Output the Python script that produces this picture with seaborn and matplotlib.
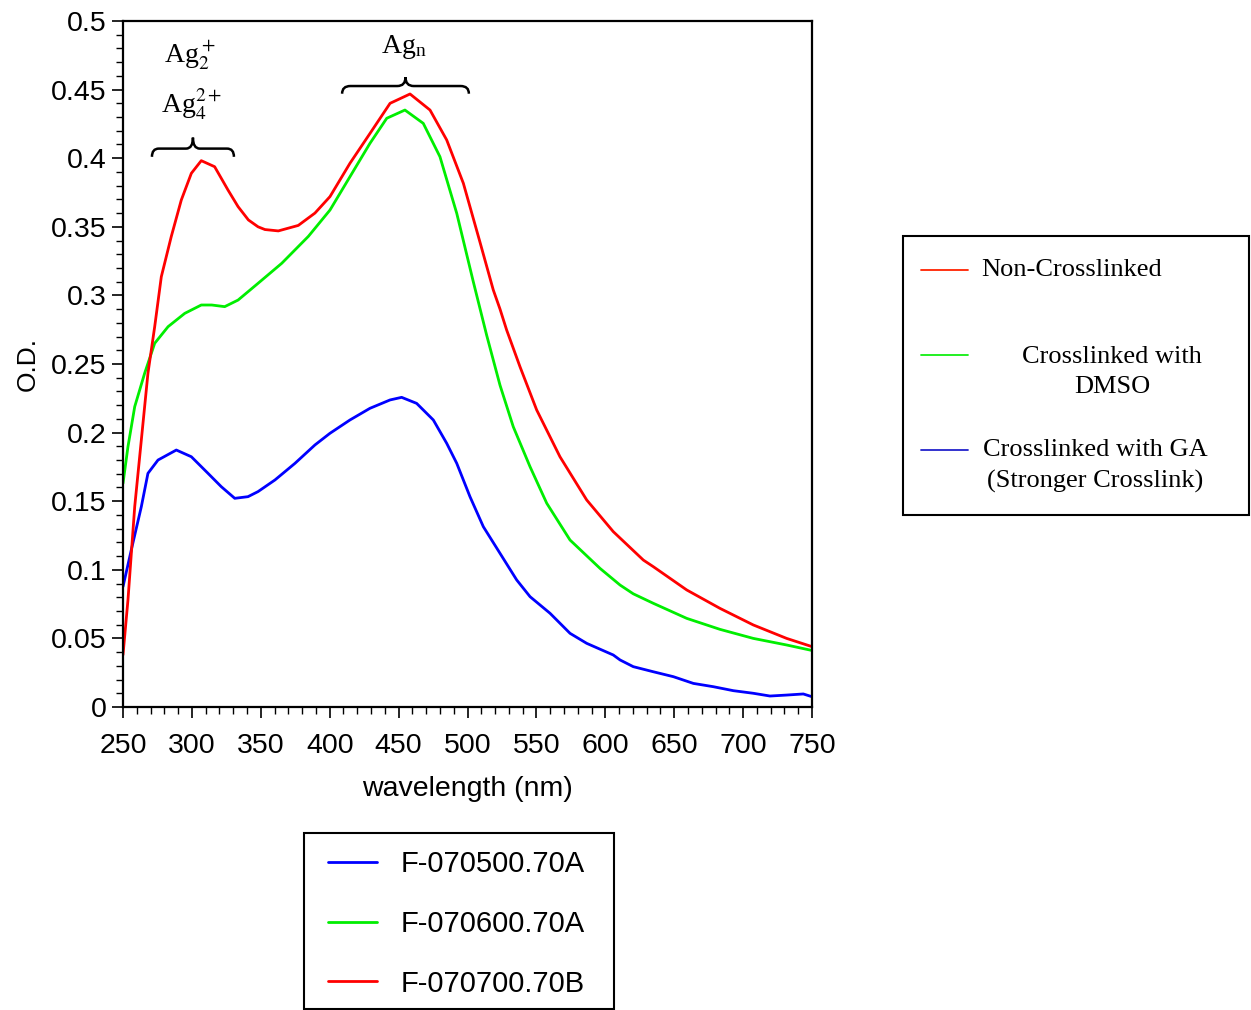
import numpy as np
import pandas as pd
import matplotlib
matplotlib.use("Agg")
import matplotlib.pyplot as plt
import seaborn as sns
from matplotlib.path import Path
from matplotlib.patches import PathPatch, Rectangle
from matplotlib.lines import Line2D
from matplotlib.ticker import MultipleLocator, FuncFormatter

# 读图得到的数据 (wavelength nm, O.D.)
blue_nm = [250, 256, 263.3, 268.1, 275.4, 288.7, 299.6, 311.7, 321.3, 331.1, 340.7, 348, 360.3,
           374.8, 389.3, 400.2, 414.7, 429.2, 443.8, 452.2, 463.1, 475.2, 484.9, 492.2, 501.8,
           511.5, 523.6, 535.7, 545.4, 559.9, 574.4, 586.5, 605.8, 610.7, 620.3, 634.8, 649.4,
           663.9, 678.4, 692.9, 707.4, 719.5, 731.6, 743.7, 750]
blue_od = [0.0877, 0.1144, 0.146, 0.1703, 0.180, 0.1873, 0.1824, 0.1703, 0.1606, 0.1521, 0.1533,
           0.157, 0.1655, 0.1776, 0.191, 0.1995, 0.2092, 0.2177, 0.2238, 0.2257, 0.2213, 0.2092,
           0.1922, 0.1776, 0.1533, 0.1314, 0.112, 0.0926, 0.0804, 0.0683, 0.0537, 0.0464,
           0.0379, 0.0343, 0.0294, 0.0257, 0.0221, 0.0172, 0.0148, 0.0119, 0.0100, 0.0080,
           0.0087, 0.0095, 0.0075]

green_nm = [250, 253.6, 258.5, 265.7, 273, 282.7, 294.8, 306.8, 314.4, 323.8, 333.5, 348, 365.2,
            384.5, 400.2, 414.7, 429.2, 441.4, 454.6, 467.9, 480, 492.2, 504.2, 513.9, 523.6,
            533.2, 545.4, 557.5, 574.4, 596.2, 610.7, 620.3, 634.8, 659.1, 683.2, 707.4,
            731.6, 750]
green_od = [0.163, 0.1897, 0.2189, 0.2432, 0.2651, 0.2772, 0.2869, 0.293, 0.293, 0.2918, 0.2966,
            0.3088, 0.3234, 0.343, 0.3622, 0.3865, 0.4108, 0.4291, 0.4351, 0.4254, 0.4011,
            0.3598, 0.310, 0.271, 0.2345, 0.2043, 0.1751, 0.1485, 0.1217, 0.101, 0.0889,
            0.0825, 0.0756, 0.0646, 0.0566, 0.0500, 0.0452, 0.0412]

red_nm = [250, 253.6, 258.5, 263.3, 268.1, 273, 277.8, 285, 292.3, 299.6, 306.8, 316.5, 326.2,
          333.5, 341, 348, 353, 362.7, 377.2, 389.3, 400.2, 414.7, 429.2, 443.8, 458.3, 472.8,
          484.9, 497, 509, 518.7, 523.6, 528.4, 538.1, 550.2, 567.1, 586.5, 605.8, 627.6,
          634.8, 659.1, 683.2, 707.4, 731.6, 750]
red_od = [0.038, 0.078, 0.146, 0.1946, 0.2432, 0.2772, 0.3136, 0.3428, 0.3695, 0.389, 0.3982,
          0.3938, 0.3768, 0.3647, 0.355, 0.350, 0.348, 0.347, 0.351, 0.360, 0.372, 0.3963,
          0.418, 0.440, 0.4468, 0.4351, 0.4133, 0.3817, 0.339, 0.304, 0.290, 0.2748, 0.248,
          0.2165, 0.1824, 0.1509, 0.1278, 0.1071, 0.1023, 0.0853, 0.0719, 0.0598, 0.0500,
          0.044]

sample_names = ["F-070500.70A", "F-070600.70A", "F-070700.70B"]
sample_colors = ["#0000ff", "#00ee00", "#ff0000"]
note_labels = ["Non-Crosslinked", "Crosslinked with\nDMSO", "Crosslinked with GA\n(Stronger Crosslink)"]
note_colors = ["#ff2200", "#11ee11", "#2222cc"]

df = pd.concat([
    pd.DataFrame({"nm": blue_nm, "od": blue_od, "sample": sample_names[0]}),
    pd.DataFrame({"nm": green_nm, "od": green_od, "sample": sample_names[1]}),
    pd.DataFrame({"nm": red_nm, "od": red_od, "sample": sample_names[2]}),
])

sns.set_style("ticks")
plt.rcParams["font.family"] = ["Liberation Sans", "DejaVu Sans"]
plt.rcParams["mathtext.fontset"] = "stix"
plt.rcParams["text.color"] = "black"
plt.rcParams["axes.labelcolor"] = "black"
plt.rcParams["xtick.color"] = "black"
plt.rcParams["ytick.color"] = "black"

W, H = 1251, 1010
fig = plt.figure(figsize=(12.51, 10.10), dpi=100)
ax = fig.add_axes([123 / W, 1 - 707 / H, (812 - 123) / W, (707 - 21) / H])

sns.lineplot(data=df, x="nm", y="od", hue="sample", hue_order=sample_names,
             palette=sample_colors, sort=False, estimator=None, linewidth=2.0, ax=ax)

ax.set_xlim(250, 750)
ax.set_ylim(0, 0.5)
ax.xaxis.set_major_locator(MultipleLocator(50))
ax.xaxis.set_minor_locator(MultipleLocator(10))
ax.yaxis.set_major_locator(MultipleLocator(0.05))
ax.yaxis.set_minor_locator(MultipleLocator(0.01))
ax.yaxis.set_major_formatter(FuncFormatter(lambda v, p: "%g" % round(v, 3)))
ax.tick_params(which="major", direction="out", length=8, width=1.2, labelsize=20.5,
               color="black", labelcolor="black")
ax.tick_params(which="minor", direction="out", length=5, width=1.0, color="black")
ax.tick_params(axis="x", which="major", pad=11)
ax.tick_params(axis="y", which="major", pad=4)
for s in ax.spines.values():
    s.set_visible(True)
    s.set_linewidth(1.6)
    s.set_color("black")

ax.set_xlabel("wavelength (nm)", fontsize=20.5, labelpad=12)
ax.set_ylabel("O.D.", fontsize=19, labelpad=8)

# 图例 (下方)，外框单独画
leg = ax.legend(loc="upper left", bbox_to_anchor=(328 / W, 1 - 850 / H),
                bbox_transform=fig.transFigure, borderaxespad=0, borderpad=0, fontsize=21,
                handlelength=1.68, handletextpad=0.82, labelspacing=1.09, frameon=False,
                title=None)
for h in leg.get_lines():
    h.set_linewidth(2.0)
fig.patches.append(Rectangle((304 / W, 1 - 1009 / H), (614 - 304) / W, (1009 - 833) / H,
                             transform=fig.transFigure, fill=False, lw=1.5, ec="black"))


# 花括号
def brace(ax, x0, x1, y0, y1, ytip, r):
    xm = (x0 + x1) / 2
    verts = [(x0, y0), (x0, y1), (x0 + r, y1), (xm - r, y1), (xm, y1), (xm, ytip),
             (xm, y1), (xm + r, y1), (x1 - r, y1), (x1, y1), (x1, y0)]
    codes = [Path.MOVETO, Path.CURVE3, Path.CURVE3, Path.LINETO, Path.CURVE3, Path.CURVE3,
             Path.CURVE3, Path.CURVE3, Path.LINETO, Path.CURVE3, Path.CURVE3]
    ax.add_patch(PathPatch(Path(verts, codes), fill=False, lw=1.8, color="black",
                           clip_on=False))


brace(ax, 271, 330.5, 0.401, 0.407, 0.415, 5)
brace(ax, 409, 501, 0.447, 0.4526, 0.459, 6)

serif = ["Liberation Serif", "DejaVu Serif"]
ax.text(298.6, 0.475, r"Ag$_2^+$", fontsize=20, family=serif, ha="center", va="center")
ax.text(300, 0.439, r"Ag$_4^{2+}$", fontsize=20, family=serif, ha="center", va="center")
ax.text(454, 0.481, r"Ag$_\mathregular{n}$", fontsize=20, family=serif, ha="center", va="center")

# 右侧说明框
fig.patches.append(Rectangle((903 / W, 1 - 515 / H), (1249 - 903) / W, (515 - 236) / H,
                             transform=fig.transFigure, fill=False, lw=1.5, ec="black"))
line_y = [270, 355, 450]
text_pos = [(981, 270, "left"), (1112, 372, "center"), (1095, 466, "center")]
for yy, (tx, ty, ha), lab, col in zip(line_y, text_pos, note_labels, note_colors):
    fig.add_artist(Line2D([921 / W, 968 / W], [1 - yy / H, 1 - yy / H],
                          transform=fig.transFigure, color=col, lw=1.3))
    fig.text(tx / W, 1 - ty / H, lab, fontsize=19, family=serif, ha=ha, va="center",
             multialignment="center", linespacing=1.5)

fig.savefig("out.png", dpi=100)
